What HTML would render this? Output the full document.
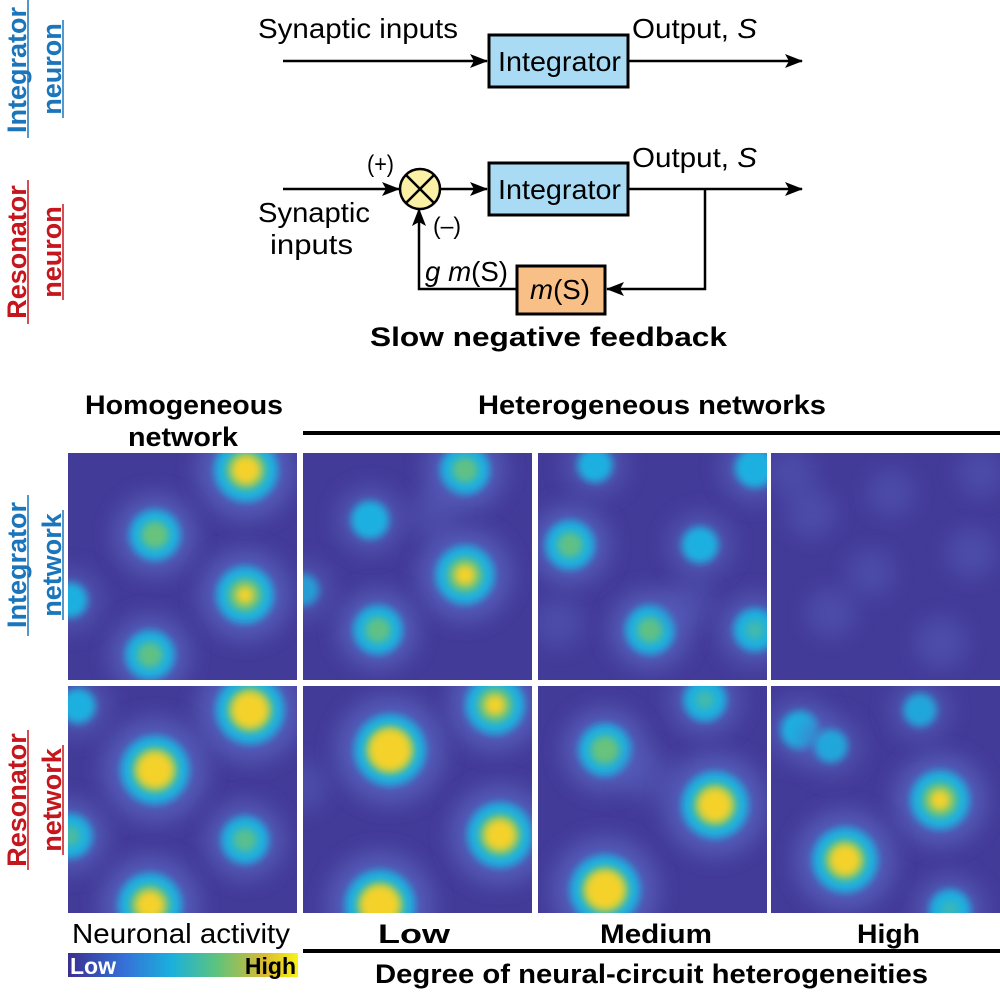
<!DOCTYPE html>
<html><head><meta charset="utf-8"><style>
html,body{margin:0;padding:0;background:#fff;}
svg{display:block;font-family:"Liberation Sans",Arial,sans-serif;}
</style></head><body>
<svg id="s" width="1000" height="1000" viewBox="0 0 1000 1000" xmlns="http://www.w3.org/2000/svg">
<defs>
<marker id="ah" markerWidth="18" markerHeight="14" refX="17" refY="7" orient="auto" markerUnits="userSpaceOnUse" viewBox="0 0 18 14"><path d="M0,0 L18,7 L0,14 L4,7 Z" fill="#000"/></marker>
<linearGradient id="cb" x1="0" x2="1"><stop offset="0" stop-color="#3b2f8f"/><stop offset=".25" stop-color="#3572d8"/><stop offset=".45" stop-color="#1ab0dc"/><stop offset=".65" stop-color="#5fc37c"/><stop offset=".85" stop-color="#d9b932"/><stop offset="1" stop-color="#f8f216"/></linearGradient>
<filter id="b10" x="-50%" y="-50%" width="200%" height="200%"><feGaussianBlur stdDeviation="10"/></filter>
<filter id="b6" x="-50%" y="-50%" width="200%" height="200%"><feGaussianBlur stdDeviation="4"/></filter>
<filter id="b4" x="-50%" y="-50%" width="200%" height="200%"><feGaussianBlur stdDeviation="4"/></filter>
</defs>
<g font-weight="bold" font-size="27">
<text transform="translate(26,70) rotate(-90)" text-anchor="middle" fill="#1b75bb">Integrator</text>
<text transform="translate(61,69) rotate(-90)" text-anchor="middle" fill="#1b75bb">neuron</text>
<text transform="translate(26,252) rotate(-90)" text-anchor="middle" fill="#c4161c">Resonator</text>
<text transform="translate(61,252) rotate(-90)" text-anchor="middle" fill="#c4161c">neuron</text>
<line x1="28" y1="0" x2="28" y2="138" stroke="#1b75bb" stroke-width="1.5"/>
<line x1="63" y1="20" x2="63" y2="118" stroke="#1b75bb" stroke-width="1.5"/>
<line x1="28" y1="180" x2="28" y2="324" stroke="#c4161c" stroke-width="1.5"/>
<line x1="63" y1="204" x2="63" y2="300" stroke="#c4161c" stroke-width="1.5"/>
<text transform="translate(26,565) rotate(-90)" text-anchor="middle" fill="#1b75bb">Integrator</text>
<text transform="translate(61,565) rotate(-90)" text-anchor="middle" fill="#1b75bb">network</text>
<text transform="translate(26,800) rotate(-90)" text-anchor="middle" fill="#c4161c">Resonator</text>
<text transform="translate(61,800) rotate(-90)" text-anchor="middle" fill="#c4161c">network</text>
<line x1="28" y1="495" x2="28" y2="636" stroke="#1b75bb" stroke-width="1.5"/>
<line x1="63" y1="510" x2="63" y2="620" stroke="#1b75bb" stroke-width="1.5"/>
<line x1="28" y1="730" x2="28" y2="870" stroke="#c4161c" stroke-width="1.5"/>
<line x1="63" y1="745" x2="63" y2="855" stroke="#c4161c" stroke-width="1.5"/>
</g>
<g font-size="28" fill="#000" lengthAdjust="spacingAndGlyphs">
<text x="258" y="38" textLength="200" lengthAdjust="spacingAndGlyphs">Synaptic inputs</text>
<text x="632" y="38" textLength="125" lengthAdjust="spacingAndGlyphs">Output, <tspan font-style="italic">S</tspan></text>
<text x="632" y="167" textLength="125" lengthAdjust="spacingAndGlyphs">Output, <tspan font-style="italic">S</tspan></text>
<text x="258" y="222" textLength="112" lengthAdjust="spacingAndGlyphs">Synaptic</text>
<text x="270" y="254" textLength="83" lengthAdjust="spacingAndGlyphs">inputs</text>
<text x="367" y="172" font-size="24" textLength="27" lengthAdjust="spacingAndGlyphs">(+)</text>
<text x="433" y="234" font-size="24" textLength="28" lengthAdjust="spacingAndGlyphs">(–)</text>
<text x="425" y="281" textLength="83" lengthAdjust="spacingAndGlyphs"><tspan font-style="italic">g m</tspan>(S)</text>
</g>
<g stroke="#000" stroke-width="2.5" fill="none">
<line x1="283" y1="61" x2="487" y2="61" marker-end="url(#ah)"/>
<line x1="629" y1="61" x2="802" y2="61" marker-end="url(#ah)"/>
<line x1="283" y1="189" x2="399" y2="189" marker-end="url(#ah)"/>
<line x1="441" y1="189" x2="487" y2="189" marker-end="url(#ah)"/>
<line x1="629" y1="189" x2="802" y2="189" marker-end="url(#ah)"/>
<polyline points="705,189 705,289 607,289" marker-end="url(#ah)"/>
<polyline points="516,289 419,289 419,209" marker-end="url(#ah)"/>
</g>
<rect x="489" y="35" width="139" height="52" fill="#a9dcf4" stroke="#000" stroke-width="3"/>
<text x="498" y="71" font-size="28" textLength="123" lengthAdjust="spacingAndGlyphs">Integrator</text>
<rect x="489" y="163" width="139" height="52" fill="#a9dcf4" stroke="#000" stroke-width="3"/>
<text x="498" y="199" font-size="28" textLength="123" lengthAdjust="spacingAndGlyphs">Integrator</text>
<rect x="517" y="266" width="88" height="48" fill="#f8bf86" stroke="#000" stroke-width="3"/>
<text x="530" y="299" font-size="28" textLength="60" lengthAdjust="spacingAndGlyphs"><tspan font-style="italic">m</tspan>(S)</text>
<circle cx="420" cy="189" r="20" fill="#fbf1a6" stroke="#000" stroke-width="2.5"/>
<path d="M406,175 L434,203 M434,175 L406,203" stroke="#000" stroke-width="2.5"/>
<g font-size="27" font-weight="bold">
<text x="370" y="346" textLength="357" lengthAdjust="spacingAndGlyphs">Slow negative feedback</text>
<text x="85" y="414" textLength="198" lengthAdjust="spacingAndGlyphs">Homogeneous</text>
<text x="128" y="446" textLength="110" lengthAdjust="spacingAndGlyphs">network</text>
<text x="478" y="414" textLength="348" lengthAdjust="spacingAndGlyphs">Heterogeneous networks</text>
<text x="378" y="943" textLength="72" lengthAdjust="spacingAndGlyphs">Low</text>
<text x="600" y="943" textLength="112" lengthAdjust="spacingAndGlyphs">Medium</text>
<text x="857" y="943" textLength="63" lengthAdjust="spacingAndGlyphs">High</text>
<text x="375" y="983" textLength="553" lengthAdjust="spacingAndGlyphs">Degree of neural-circuit heterogeneities</text>
</g>
<rect x="303" y="431" width="697" height="4" fill="#000"/>
<rect x="303" y="949" width="697" height="4" fill="#000"/>
<text x="72" y="943" font-size="28" textLength="218" lengthAdjust="spacingAndGlyphs">Neuronal activity</text>
<rect x="68" y="953" width="230" height="24" fill="url(#cb)"/>
<text x="70" y="974" font-size="23" font-weight="bold" fill="#fff">Low</text>
<text x="296" y="974" font-size="23" font-weight="bold" text-anchor="end">High</text>
<g id="panels"></g>
</svg>
<script>
var P=[
[68,453,[[178,17,3],[87,82,2.2],[177,142,2.6],[82,202,2.1],[2,147,1.2]]],
[68,686,[[182,24,3.3],[87,84,3.3],[177,154,2],[82,219,3],[2,150,1.8],[10,20,1.2]]],
[303,453,[[162,17,2.1],[67,67,1.4],[162,122,2.7],[75,177,2.1],[0,137,1],[130,60,0.5]]],
[303,686,[[192,19,2.7],[87,64,3.5],[197,149,3.1],[77,219,3.4],[0,100,0.5]]],
[538,453,[[57,12,1.2],[217,15,1.5],[32,92,2.1],[162,92,1.3],[112,177,2.1],[217,177,1.7],[20,170,0.5],[150,150,0.5]]],
[538,686,[[167,14,1.7],[67,64,2.3],[177,119,3.2],[67,204,3.4],[110,90,0.6]]],
[771,453,[[40,60,0.5],[120,40,0.4],[200,100,0.5],[60,160,0.5],[170,190,0.6],[100,120,0.4],[20,20,0.4],[210,20,0.4]]],
[771,686,[[29,44,1.4],[169,114,2.7],[74,174,3.1],[179,224,1.6],[149,24,1.1],[60,60,1.1]]]
];
var g=document.getElementById('panels'),h='';
P.forEach(function(p,i){
 var x=p[0],y=p[1],w=229,H=227;
 h+='<clipPath id="c'+i+'"><rect x="'+x+'" y="'+y+'" width="'+w+'" height="'+H+'"/></clipPath>';
 h+='<g clip-path="url(#c'+i+')"><rect x="'+x+'" y="'+y+'" width="'+w+'" height="'+H+'" fill="#433b98"/>';
 p[2].forEach(function(b){
  var cx=x+b[0],cy=y+b[1],l=b[2];
  h+='<circle cx="'+cx+'" cy="'+cy+'" r="'+(20+10*l)+'" fill="#5960bd" opacity="'+Math.min(0.8,0.35+l*0.2)+'" filter="url(#b10)"/>';
  if(l>=0.9)h+='<circle cx="'+cx+'" cy="'+cy+'" r="'+(8+8*l)+'" fill="#1fb0e0" opacity="'+Math.min(1,l-0.2)+'" filter="url(#b6)"/>';
  if(l>=1.6)h+='<circle cx="'+cx+'" cy="'+cy+'" r="'+(8*l-4)+'" fill="#68c37c" opacity="'+Math.min(1,l-1.2)+'" filter="url(#b4)"/>';
  if(l>=2.4)h+='<circle cx="'+cx+'" cy="'+cy+'" r="'+(14*(l-2.4)+6)+'" fill="#f4d22a" filter="url(#b4)"/>';
 });
 h+='</g>';
});
g.innerHTML=h;
</script>
</body></html>
